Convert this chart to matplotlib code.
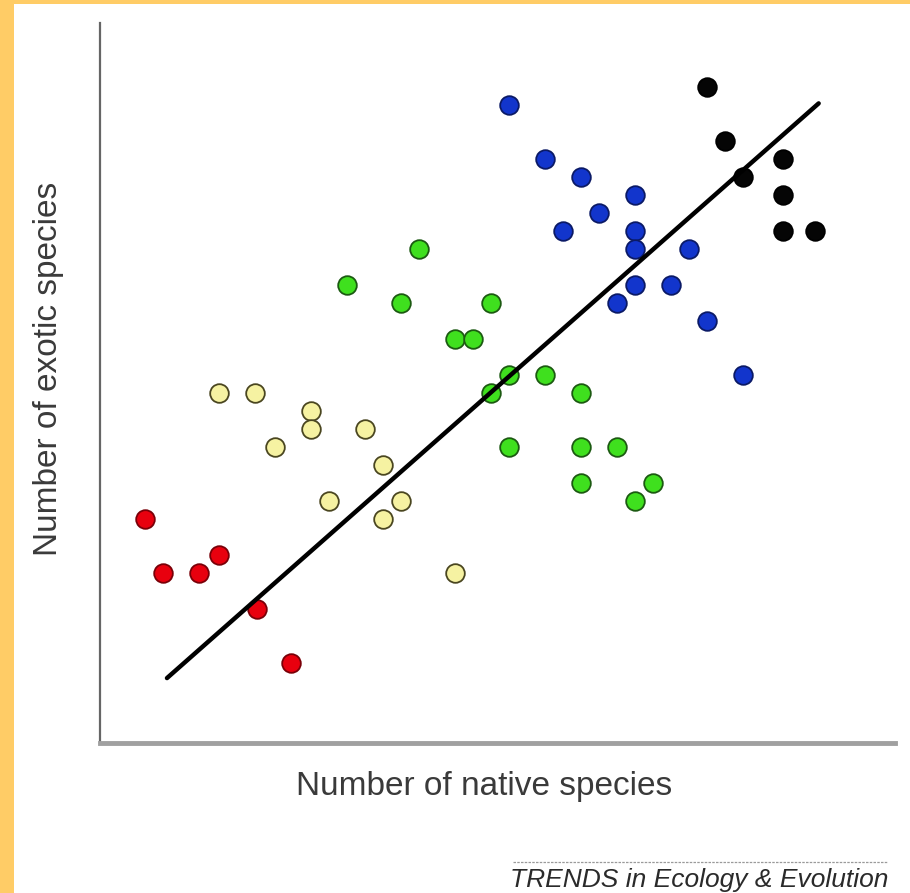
import matplotlib
matplotlib.use("Agg")
import matplotlib.pyplot as plt
import numpy as np
from matplotlib.patches import Rectangle
from matplotlib.lines import Line2D

plt.rcParams['font.family'] = ['Liberation Sans', 'DejaVu Sans']

# Native vs exotic species richness, grouped by region
red_x = [1.8, 2.8, 4.8, 5.9, 8.0, 9.9]
red_y = [12, 9, 9, 10, 7, 4]

yellow_x = [5.9, 7.9, 9.0, 11.0, 11.0, 12.0, 14.0, 15.0, 15.0, 16.0, 19.0]
yellow_y = [19, 19, 16, 18, 17, 13, 17, 15, 12, 13, 9]

green_x = [13, 17, 16, 19, 20, 21, 22, 21, 24, 26, 22, 26, 28, 26, 29, 30]
green_y = [25, 27, 24, 22, 22, 24, 20, 19, 20, 19, 16, 16, 16, 14, 13, 14]

blue_x = [22, 24, 26, 29, 27, 25, 29, 29, 32, 29, 31, 28, 33, 35]
blue_y = [35, 32, 31, 30, 29, 28, 28, 27, 27, 25, 25, 24, 23, 20]

black_x = [33, 34, 37.2, 35, 37.2, 37.2, 39]
black_y = [36, 33, 32, 31, 30, 28, 28]

# Fitted regression line
fit_slope = 0.882
fit_intercept = 0.52
fit_x = [3.0, 39.2]

W, H = 910, 893
fig = plt.figure(figsize=(W / 100, H / 100), dpi=100)
fig.patch.set_facecolor('white')

# Orange frame strips along the left and top edges
fig.patches.append(Rectangle((0, 0), 14 / W, 1, transform=fig.transFigure,
                             facecolor='#ffcc66', edgecolor='none', zorder=0))
fig.patches.append(Rectangle((0, 1 - 4 / H), 1, 4 / H, transform=fig.transFigure,
                             facecolor='#ffcc66', edgecolor='none', zorder=0))

ax = fig.add_axes([100 / W, (H - 743) / H, (895 - 100) / W, (743 - 23) / H])
ax.set_xlim(-0.72, 43.44)
ax.set_ylim(-0.44, 39.56)
ax.set_xticks([])
ax.set_yticks([])
for s in ['top', 'right']:
    ax.spines[s].set_visible(False)
ax.spines['left'].set_color('#666666')
ax.spines['left'].set_linewidth(1.6)
ax.spines['bottom'].set_color('#a0a0a0')
ax.spines['bottom'].set_linewidth(3.5)

ms = 180
lw = 1.3
groups = [
    (red_x, red_y, '#e8000e', '#7a0008'),
    (yellow_x, yellow_y, '#f6f2a2', '#4a4620'),
    (green_x, green_y, '#3fe01e', '#1c5a12'),
    (blue_x, blue_y, '#1235cc', '#0b1a66'),
    (black_x, black_y, '#050505', '#000000'),
]
for gx, gy, fc, ec in groups:
    ax.scatter(gx, gy, s=ms, facecolor=fc, edgecolor=ec, linewidth=lw, zorder=3)

fx = np.array(fit_x)
ax.plot(fx, fit_slope * fx + fit_intercept, color='black', linewidth=3.2,
        solid_capstyle='round', zorder=4)

# Axis titles placed directly in figure coordinates
fig.text(484 / W, 1 - 795 / H, 'Number of native species', fontsize=24,
         color='#3a3a3a', ha='center', va='baseline')
fig.text(49 / W, 1 - 369 / H, 'Number of exotic species', fontsize=24,
         color='#3a3a3a', ha='center', va='center', rotation=90)

# Journal credit line with rule above
fig.add_artist(Line2D([513 / W, 887 / W], [1 - 862 / H, 1 - 862 / H],
                      transform=fig.transFigure, color='#9a9a9a', linewidth=0.9,
                      linestyle=(0, (2, 1))))
fig.text(888 / W, 1 - 880 / H, 'TRENDS in Ecology & Evolution', fontsize=19,
         style='italic', color='#2a2a2a', ha='right', va='center')

fig.savefig('out.png', dpi=100, facecolor='white')
